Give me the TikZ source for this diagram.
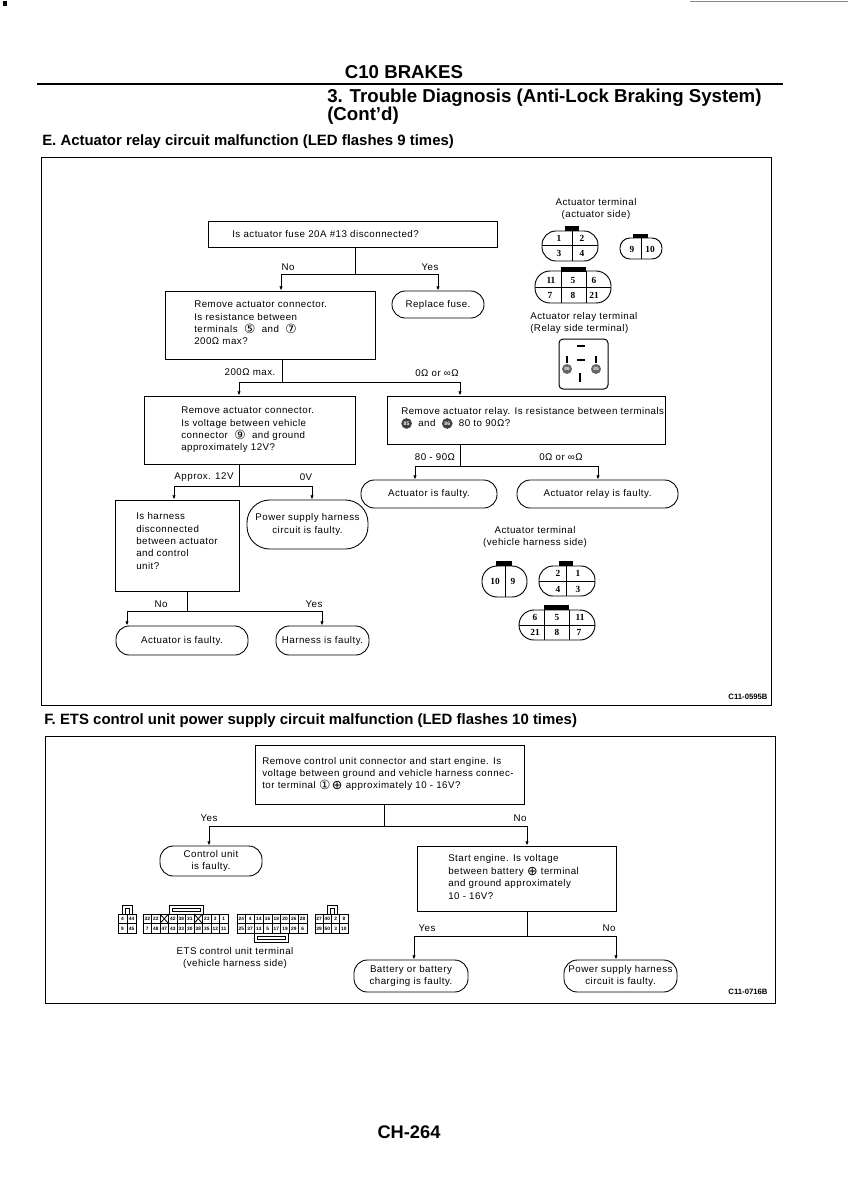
\documentclass[tikz,border=0pt]{standalone}
\usepackage{fontspec}
\setmainfont{Liberation Sans}
\newfontfamily\symf{DejaVu Sans}
\newfontfamily\pinf{Liberation Serif}
\usetikzlibrary{arrows.meta,calc}
\newcommand{\fs}{\fontsize{7.3}{9.3}\selectfont\addfontfeature{LetterSpace=5}}
\newcommand{\cnum}[1]{{\symf\fontsize{9.5}{9.3}\selectfont\raisebox{-.6pt}{#1}}}
\newcommand{\cdark}[1]{\tikz[baseline=-2.4pt]\node[circle,fill=black!75,inner sep=0pt,minimum size=8pt,text=white,font=\fontsize{3.8}{3.8}\selectfont\bfseries]{#1};}
\newcommand{\bx}[7][sq]{\node[#1,minimum width={(#4-#2)*0.75pt},minimum height={(#5-#3)*0.75pt}] (#6) at ({(#2+#4)/2},{(#3+#5)/2}) {#7};}
\newcommand{\ovl}[5]{\draw[pinline,rounded corners=#5*0.75pt] (#1,#2) rectangle (#3,#4);}
\newcommand{\keyb}[4]{\fill[black] (#1,#2) rectangle (#3,#4);}
\tikzset{
  sq/.style={draw,line width=.65pt,rectangle,inner sep=0pt,font=\fs},
  rd/.style={draw,line width=.65pt,rectangle,rounded corners=10pt,inner sep=0pt,font=\fs,align=center},
  rdbig/.style={rd,rounded corners=17pt},
  txt/.style={anchor=west,inner sep=0pt,font=\fs,align=left},
  lab/.style={inner sep=0pt,font=\fs},
  flow/.style={line width=.65pt,-{Latex[length=3.2pt,width=2.6pt]}},
  wire/.style={line width=.65pt},
  pinline/.style={line width=.7pt},
  pin/.style={inner sep=0pt,font=\pinf\bfseries\fontsize{7}{7}\selectfont},
  ets/.style={inner sep=0pt,font=\fontsize{3.6}{3.6}\selectfont\bfseries},
  head/.style={inner sep=0pt,font=\bfseries\fontsize{14}{14}\selectfont},
  sub/.style={anchor=west,inner sep=0pt,font=\bfseries\fontsize{11.2}{12}\selectfont},
}
\begin{document}
\begin{tikzpicture}[x=.75pt,y=-.75pt]
\useasboundingbox (0,0) rectangle (848,1200);
% page marks
\fill[black] (3,1) rectangle (7,6);
\draw[black!45,line width=.5pt] (690,1) -- (848,1);
% page header
\node[head] (title) at (404,72) {C10 BRAKES};
\draw[line width=1.7pt] (37,84) -- (783,84);
\node[head,anchor=west] (t2) at (327,98) {3. Trouble Diagnosis (Anti-Lock Braking System)};
\node[head,anchor=west] (t3) at (327,116) {(Cont'd)};
\node[sub] (secE) at (42,142) {E. Actuator relay circuit malfunction (LED flashes 9 times)};
\draw[line width=.75pt] (41,157) rectangle (771,705);
% --- E flow
\bx{208}{221}{497}{247}{q1}{}
\node[txt] (q1t) at (232,234) {Is actuator fuse 20A \#13 disconnected?};
\bx{165}{291}{375}{359}{q2}{}
\node[txt] (q2t) at (194,323) {Remove actuator connector.\\Is resistance between\\terminals \ \cnum{⑤} \ and \ \cnum{⑦}\\200Ω max?};
\bx[rd]{392}{291}{484}{318}{fuse}{Replace fuse.}
\bx{144}{396}{355}{464}{q3}{}
\node[txt] (q3t) at (181,430) {Remove actuator connector.\\Is voltage between vehicle\\connector \ \cnum{⑨} \ and ground\\approximately 12V?};
\bx{387}{396}{665}{444}{q4}{}
\node[txt] (q4t) at (401,418) {Remove actuator relay. Is resistance between terminals\\\cdark{85} \ and \ \cdark{86} \ 80 to 90Ω?};
\bx[rd]{361}{480}{497}{508}{af1}{Actuator is faulty.}
\bx[rd]{517}{480}{678}{508}{arf}{Actuator relay is faulty.}
\bx{115}{500}{239}{591}{q5}{}
\node[txt] (q5t) at (136,541) {Is harness\\disconnected\\between actuator\\and control\\unit?};
\bx[rdbig]{247}{500}{368}{549}{psh}{Power supply harness\\circuit is faulty.}
\bx[rd]{116}{626}{248}{655}{af2}{Actuator is faulty.}
\bx[rd]{276}{626}{369}{655}{hf}{Harness is faulty.}
\coordinate (j1) at (355,274);
\draw[wire] (j1 |- q1.south) -- (j1);
\draw[flow] (j1) -| (281,0 |- q2.north);
\draw[flow] (j1) -| (438,0 |- fuse.north);
\node[lab] (l1) at (288,267) {No};
\node[lab] (l2) at (430,267) {Yes};
\coordinate (j2) at (282,382);
\draw[wire] (j2 |- q2.south) -- (j2);
\draw[flow] (j2) -| (239,0 |- q3.north);
\draw[flow] (j2) -| (460,0 |- q4.north);
\node[lab] (l3) at (250,372) {200Ω max.};
\node[lab] (l4) at (437,373) {0Ω or ∞Ω};
\coordinate (j3) at (239,486);
\draw[wire] (j3 |- q3.south) -- (j3);
\draw[flow] (j3) -| (174,0 |- q5.north);
\draw[flow] (j3) -| (312,0 |- psh.north);
\node[lab] (l5) at (204,477) {Approx. 12V};
\node[lab] (l6) at (306,477) {0V};
\coordinate (j4) at (460,466);
\draw[wire] (j4 |- q4.south) -- (j4);
\draw[flow] (j4) -| (415,0 |- af1.north);
\draw[flow] (j4) -| (598,0 |- arf.north);
\node[lab] (l7) at (435,457) {80 - 90Ω};
\node[lab] (l8) at (561,457) {0Ω or ∞Ω};
\coordinate (j5) at (187,611);
\draw[wire] (j5 |- q5.south) -- (j5);
\draw[flow] (j5) -| (127,0 |- af2.north);
\draw[flow] (j5) -| (322,0 |- hf.north);
\node[lab] (l9) at (161,604) {No};
\node[lab] (l10) at (314,604) {Yes};
% --- connectors top right
\node[lab,align=center] (c1) at (596,209) {Actuator terminal\\(actuator side)};
\ovl{542}{231}{598}{261}{14}
\keyb{565}{226}{579}{231}
\draw[pinline] (572,231)--(572,261) (542,245)--(598,245);
\node[pin] (p1) at (559,238) {1}; \node[pin] (p2) at (582,238) {2};
\node[pin] (p3) at (559,253) {3}; \node[pin] (p4) at (582,253) {4};
\ovl{620}{238}{662}{259}{10}
\keyb{633}{234}{648}{238}
\draw[pinline] (641,238)--(641,259);
\node[pin] (p9) at (632,249) {9}; \node[pin] (p10) at (650,249) {10};
\ovl{535}{271}{611}{303}{15}
\keyb{561}{267}{586}{272}
\draw[pinline] (561,271)--(561,303) (586,271)--(586,303) (535,287)--(611,287);
\node[pin] (p11) at (551,280) {11}; \node[pin] (p5) at (573,280) {5}; \node[pin] (p6) at (594,280) {6};
\node[pin] (p7) at (550,295) {7}; \node[pin] (p8) at (573,295) {8}; \node[pin] (p21) at (594,295) {21};
\node[txt] (c2) at (530,323) {Actuator relay terminal\\(Relay side terminal)};
\draw[line width=.75pt,rounded corners=3pt] (559,339) rectangle (608,389);
\draw[line width=1pt] (577,346)--(585,346) (577,360)--(585,360) (567,356)--(567,363) (596,356)--(596,363) (580,373)--(580,382);
\node[circle,fill=black!60,inner sep=0pt,minimum size=7.5pt,text=white,font=\fontsize{3.5}{3.5}\selectfont\bfseries] (r86) at (567,369) {86};
\node[circle,fill=black!60,inner sep=0pt,minimum size=7.5pt,text=white,font=\fontsize{3.5}{3.5}\selectfont\bfseries] (r85) at (596,369) {85};
% --- connectors lower right
\node[lab,align=center] (c3) at (535,537) {Actuator terminal\\(vehicle harness side)};
\ovl{482}{566}{527}{597}{15}
\keyb{496}{561}{512}{566}
\draw[pinline] (505,566)--(505,597);
\node[pin] (q10) at (495,581) {10}; \node[pin] (q9) at (513,581) {9};
\ovl{539}{566}{595}{596}{14}
\keyb{559}{561}{573}{566}
\draw[pinline] (566,566)--(566,596) (539,581)--(595,581);
\node[pin] (q2a) at (558,573) {2}; \node[pin] (q1a) at (578,573) {1};
\node[pin] (q4a) at (558,589) {4}; \node[pin] (q3a) at (578,589) {3};
\ovl{519}{610}{595}{640}{15}
\keyb{544}{605}{569}{610}
\draw[pinline] (544,610)--(544,640) (569,610)--(569,640) (519,625)--(595,625);
\node[pin] (q6) at (535,617) {6}; \node[pin] (q5a) at (557,617) {5}; \node[pin] (q11) at (580,617) {11};
\node[pin] (q21) at (535,632) {21}; \node[pin] (q8) at (557,632) {8}; \node[pin] (q7) at (579,632) {7};
\node[inner sep=0pt,font=\fontsize{5.8}{6}\selectfont\bfseries] (code1) at (748,697) {C11-0595B};
% --- F
\node[sub] (secF) at (44,721) {F. ETS control unit power supply circuit malfunction (LED flashes 10 times)};
\draw[line width=.75pt] (45,736) rectangle (775,1003);
\bx{255}{745}{524}{804}{f1}{}
\node[txt] (f1t) at (262,774) {Remove control unit connector and start engine. Is\\voltage between ground and vehicle harness connec-\\tor terminal \cnum{①}\,\cnum{⊕} approximately 10 - 16V?};
\bx[rd]{160}{846}{262}{876}{cu}{Control unit\\is faulty.}
\bx{417}{846}{616}{911}{f2}{}
\node[txt] (f2t) at (448,877) {Start engine. Is voltage\\between battery \cnum{⊕} terminal\\and ground approximately\\10 - 16V?};
\bx[rd]{354}{960}{468}{992}{bat}{Battery or battery\\charging is faulty.}
\bx[rd]{564}{960}{677}{992}{pw}{Power supply harness\\circuit is faulty.}
\coordinate (j6) at (384,826);
\draw[wire] (j6 |- f1.south) -- (j6);
\draw[flow] (j6) -| (209,0 |- cu.north);
\draw[flow] (j6) -| (527,0 |- f2.north);
\node[lab] (l11) at (209,818) {Yes};
\node[lab] (l12) at (520,818) {No};
\coordinate (j7) at (527,936);
\draw[wire] (j7 |- f2.south) -- (j7);
\draw[flow] (j7) -| (414,0 |- bat.north);
\draw[flow] (j7) -| (616,0 |- pw.north);
\node[lab] (l13) at (427,928) {Yes};
\node[lab] (l14) at (609,928) {No};
% ETS connector blocks
\newcommand{\etsrow}[4]{\foreach \lb [count=\i from 0] in {#4} {\node[ets] at ({#1+(\i+.5)*#3},#2) {\lb};}}
\draw[line width=.6pt] (122,914)|-(132,905)--(132,914) (125,908) rectangle (129,914);
\draw[line width=.6pt] (118,914) rectangle (136,933) (118,923.5)--(136,923.5) (127,914)--(127,933);
\etsrow{118}{919}{9}{4,44}
\etsrow{118}{928.5}{9}{9,45}
\draw[line width=.6pt] (169,914)|-(203,905)--(203,914) (172,908) rectangle (200,911);
\draw[line width=.6pt] (143,914) rectangle (228,933) (143,923.5)--(228,923.5);
\foreach \k in {1,...,9} {\draw[line width=.4pt] ({143+\k*8.5},914)--({143+\k*8.5},933);}
\draw[line width=.6pt] (160,914)--(168.5,923.5) (168.5,914)--(160,923.5) (194,914)--(202.5,923.5) (202.5,914)--(194,923.5);
\etsrow{143}{919}{8.5}{32,22,,42,38,31,,23,3,1}
\etsrow{143}{928.5}{8.5}{7,48,47,43,33,30,38,35,12,11}
\draw[line width=.6pt] (254,933)|-(288,942)--(288,933) (257,936) rectangle (285,939);
\draw[line width=.6pt] (237,914) rectangle (307,933) (237,923.5)--(307,923.5);
\foreach \k in {1,...,7} {\draw[line width=.4pt] ({237+\k*8.75},914)--({237+\k*8.75},933);}
\etsrow{237}{919}{8.75}{24,4,14,16,18,20,26,28}
\etsrow{237}{928.5}{8.75}{25,37,13,5,17,19,29,6}
\draw[line width=.6pt] (327,914)|-(337,905)--(337,914) (330,908) rectangle (334,914);
\draw[line width=.6pt] (315,914) rectangle (348,933) (315,923.5)--(348,923.5);
\foreach \k in {1,...,3} {\draw[line width=.4pt] ({315+\k*8.25},914)--({315+\k*8.25},933);}
\etsrow{315}{919}{8.25}{27,40,2,8}
\etsrow{315}{928.5}{8.25}{39,50,3,10}
\node[lab,align=center] (etsl) at (235,958) {ETS control unit terminal\\(vehicle harness side)};
\node[inner sep=0pt,font=\fontsize{5.8}{6}\selectfont\bfseries] (code2) at (748,992) {C11-0716B};
\node[inner sep=0pt,font=\bfseries\fontsize{13.7}{14}\selectfont] (pg) at (409,1132) {CH-264};
\end{tikzpicture}
\end{document}
